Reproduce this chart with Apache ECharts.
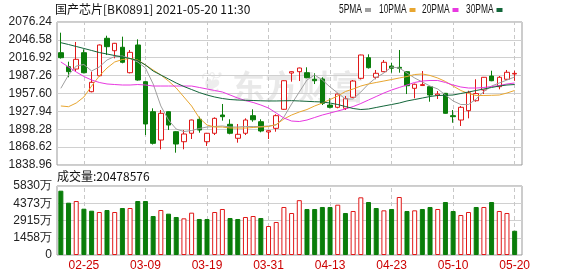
<!DOCTYPE html>
<html><head><meta charset="utf-8">
<script src="https://cdn.jsdelivr.net/npm/echarts@6/dist/echarts.min.js"></script>
<style>html,body{margin:0;padding:0;background:#fff}#c{width:578px;height:276px}</style>
</head><body><div id="c"></div>
<script>
const dates = ['02-22','02-23','02-24','02-25','02-26','03-01','03-02','03-03','03-04','03-05',
 '03-08','03-09','03-10','03-11','03-12','03-15','03-16','03-17','03-18','03-19',
 '03-22','03-23','03-24','03-25','03-26','03-29','03-30','03-31','04-01','04-02',
 '04-06','04-07','04-08','04-09','04-12','04-13','04-14','04-15','04-16','04-19',
 '04-20','04-21','04-22','04-23','04-26','04-27','04-28','04-29','04-30','05-06',
 '05-07','05-10','05-11','05-12','05-13','05-14','05-17','05-18','05-19','05-20'];
const labelDates = ['02-25','03-09','03-19','03-31','04-13','04-23','05-10','05-20'];
const opens  = [2025.3,2002.1,1998.2,2025.3,1960.6,1987.1,2049.2,2028.6,2034.3,1992.1,
 2038.1,1977.2,1927.4,1880.4,1927.4,1894.2,1877.6,1891.6,1914.8,1877.6,
 1891.6,1921.9,1906.5,1883.3,1891.6,1920.8,1910.8,1893.7,1899.8,1931.4,
 1991.5,1993.8,1992.1,1981.2,1981.7,1938.5,1934.7,1933.0,1951.3,1982.8,
 2017.0,1984.5,1993.8,2003.2,2001.0,1993.8,1966.2,1970.8,1968.9,1954.6,
 1957.9,1920.8,1913.6,1929.1,1945.6,1963.4,1986.6,1968.9,1981.2,1990.0];
const closes = [2017.0,1993.8,2014.3,1992.1,1976.2,2038.1,2035.3,2040.9,2009.4,2025.9,
 1980.0,1907.0,1874.9,1924.7,1905.3,1873.8,1890.4,1913.6,1897.0,1891.6,
 1916.4,1919.1,1891.6,1889.9,1913.6,1914.0,1895.4,1895.9,1920.8,1978.8,
 1993.8,1999.9,1983.8,1978.8,1941.3,1934.7,1956.7,1949.0,1978.3,2021.5,
 2000.4,1991.1,2009.4,1999.4,1999.5,1970.5,1972.9,1972.4,1955.1,1956.7,
 1924.7,1919.1,1934.7,1958.9,1957.5,1984.5,1978.8,1984.5,1992.8,1991.0];
const lows   = [2015.5,1984.5,1993.8,1991.1,1959.5,1986.0,2021.5,2016.0,2007.7,1991.0,
 1979.0,1888.7,1873.0,1865.0,1897.0,1859.4,1865.0,1882.1,1892.6,1870.5,
 1888.7,1912.5,1889.9,1876.0,1888.7,1910.8,1893.2,1882.1,1894.2,1930.5,
 1977.2,1978.3,1983.0,1973.3,1938.5,1933.0,1933.0,1930.2,1950.0,1981.0,
 1999.0,1981.2,1993.0,1992.1,1992.1,1956.7,1949.6,1970.0,1944.0,1948.5,
 1924.0,1909.1,1903.7,1916.4,1944.0,1956.7,1978.0,1964.6,1980.0,1978.7];
const highs  = [2058.5,2010.4,2043.1,2030.9,1993.8,2039.0,2053.5,2041.5,2051.9,2029.8,
 2047.5,1978.0,1933.0,1930.2,1928.0,1895.0,1897.0,1914.2,1919.1,1892.2,
 1918.0,1940.2,1914.8,1907.0,1916.4,1931.4,1914.8,1896.5,1923.1,1979.5,
 1994.5,2000.5,2001.1,1991.1,1984.5,1949.6,1957.5,1953.4,1980.0,2022.0,
 2022.6,1996.6,2013.2,2008.7,2029.8,1994.5,1974.0,1994.9,1969.5,1961.7,
 1958.5,1930.2,1936.9,1962.2,1981.2,1985.0,1995.4,1986.6,1996.6,1995.4];
const ma5  = [1966.2,1988.3,2003.2,2005.7,1994.9,2001.6,2013.2,2019.0,2019.8,2015.7,
 2009.9,1999.9,1973.4,1936.9,1913.6,1898.6,1894.5,1896.2,1899.5,1902.0,
 1902.8,1903.7,1902.0,1902.0,1902.8,1902.8,1902.8,1903.7,1905.3,1918.6,
 1940.2,1960.1,1980.0,1988.3,1980.0,1968.4,1958.4,1948.5,1948.5,1960.1,
 1973.4,1984.1,1991.6,2001.6,1999.9,1991.6,1983.3,1976.7,1970.0,1965.1,
 1955.1,1945.2,1939.3,1939.3,1948.5,1960.9,1970.0,1975.0,1980.0,1985.0];
const ma10 = [1936.9,1935.7,1941.8,1951.8,1970.0,1986.6,1999.9,2009.9,2014.0,2015.7,
 2013.2,2004.9,1996.6,1988.3,1978.3,1966.7,1951.8,1936.9,1917.0,1905.3,
 1902.0,1902.0,1900.3,1900.3,1900.3,1901.2,1902.0,1902.8,1906.2,1915.3,
 1921.9,1926.9,1931.0,1936.9,1941.8,1947.6,1953.4,1960.9,1965.1,1970.0,
 1973.4,1975.9,1978.3,1980.8,1983.3,1985.8,1989.1,1990.0,1987.5,1983.3,
 1977.5,1970.0,1962.6,1957.6,1954.3,1954.3,1954.6,1955.1,1958.4,1962.6];
const ma20 = [2009.9,2001.6,1993.3,1985.8,1980.0,1975.9,1973.4,1972.5,1971.7,1971.7,
 1972.5,1971.7,1970.0,1970.0,1970.0,1970.0,1970.0,1970.0,1967.6,1965.1,
 1962.6,1960.1,1955.1,1950.1,1946.0,1942.7,1938.5,1933.5,1925.2,1916.9,
 1911.9,1911.1,1913.6,1917.8,1921.9,1925.2,1928.6,1931.9,1936.0,1941.0,
 1946.8,1952.6,1958.4,1963.4,1967.6,1971.7,1975.9,1978.3,1979.2,1979.2,
 1975.9,1971.7,1968.4,1966.7,1966.7,1967.6,1969.2,1970.9,1973.4,1975.0];
const ma30 = [2041.9,2038.9,2035.6,2032.3,2029.0,2025.6,2023.1,2020.6,2018.2,2015.7,
 2012.3,2004.9,1994.9,1988.3,1981.7,1975.0,1969.2,1964.2,1959.2,1955.1,
 1951.8,1949.3,1947.6,1946.8,1946.3,1946.0,1945.5,1945.2,1945.2,1945.5,
 1945.7,1945.2,1944.6,1944.0,1943.5,1941.8,1939.3,1936.0,1932.7,1931.0,
 1931.9,1934.4,1936.9,1939.3,1941.8,1945.2,1947.6,1950.1,1952.6,1954.3,
 1954.6,1955.1,1957.6,1960.1,1962.6,1965.1,1967.6,1970.0,1971.7,1972.5];
// volume in 万 (10k)
const volumes = [5433,4420,4562,3912,3743,3633,3802,3633,3971,3971,
 4562,4562,3295,3802,3492,3211,3098,3577,3042,3042,
 3633,3887,3126,3042,3211,3295,3126,2450,2788,4056,
 3549,4633,3887,3887,4056,4056,4250,3549,3718,4873,
 4478,3971,3774,3887,4900,3718,3774,3887,4056,3887,
 4478,3718,3380,3633,4056,4056,4478,3718,3549,2048];
// 1 = up (red hollow), 0 = down (green)
const volUp = [0,0,1,0,0,1,0,1,0,1, 0,0,0,1,0,0,1,1,0,0, 1,1,0,0,1,1,0,1,1,1,
 1,1,0,0,0,0,1,0,1,1, 0,0,1,0,1,0,1,0,0,1, 0,0,1,1,0,1,0,1,1,0];
const priceMin = 1838.96, priceMax = 2076.24, priceStep = 29.66;
const volMax = 5830, volStep = 1457.5;
const titleText = '国产芯片[BK0891] 2021-05-20 11:30';
const volTitle = '成交量:20478576';
const legendNames = ['5PMA','10PMA','20PMA','30PMA'];
const legendColors = ['#a0a0a0','#e8a630','#e838e0','#13663a'];

const RED = '#e01818', GREEN = '#0a7d0a';
const chart = echarts.init(document.getElementById('c'), null, {renderer:'canvas'});
const candleData = opens.map((o,i)=>[o, closes[i], lows[i], highs[i]]);
const volData = volumes.map((v,i)=>({value:v, itemStyle: volUp[i] ? {color:'#fff', borderColor:RED, borderWidth:1} : {color:GREEN, borderColor:GREEN, borderWidth:1}}));
const vlines = {z:1, silent:true, symbol:['none','none'], label:{show:false},
  lineStyle:{type:[4,3], color:'#c8c8c8', width:1}, data: labelDates.map(d=>({xAxis:d}))};
const axFont = {fontFamily:'Liberation Sans, Arial, sans-serif', fontSize:12, color:'#222'};
const maLine = (name, data, color) => ({name, type:'line', data, xAxisIndex:1, yAxisIndex:1,
  showSymbol:false, symbol:'none', lineStyle:{width:1, color}, itemStyle:{color}, z:3});

// legend drawn as condensed text + small color bar
const legendX = [339, 379, 422, 466];
const legendGraphics = [];
legendNames.forEach((n,i)=>{
  const w = (n.length===4 ? 23 : 27.5);
  legendGraphics.push({type:'text', x:legendX[i], y:9.5, scaleX:0.7, silent:true,
    style:{text:n, font:'12px "Liberation Sans"', fill:'#111', align:'left', verticalAlign:'middle'}});
  legendGraphics.push({type:'rect', x:legendX[i]+w+3, y:8, silent:true,
    shape:{x:0,y:0,width:6,height:4}, style:{fill:legendColors[i]}});
});

chart.setOption({
  animation:false,
  backgroundColor:'#fff',
  title:[
    {text:titleText, left:55, top:3, padding:0, textStyle:{fontSize:12, fontWeight:'normal', color:'#111', fontFamily:'Noto Sans CJK SC'}},
    {text:volTitle, left:57, top:170, padding:0, textStyle:{fontSize:12, fontWeight:'normal', color:'#111', fontFamily:'Noto Sans CJK SC'}}
  ],
  graphic:[
    {type:'text', left:232, top:70, silent:true, z:-1,
     style:{text:'东方财富', font:'bold 33px "Noto Sans CJK SC"', fill:'rgba(0,0,0,0.085)'}},
    {type:'text', left:200, top:70, silent:true, z:-1,
     style:{text:'❦', font:'bold 30px "DejaVu Sans"', fill:'rgba(0,0,0,0.07)'}}
  ].concat(legendGraphics),
  grid:[
    {left:57, top:22, width:465, height:143, show:true, borderColor:'#999', borderWidth:1},
    {left:57, top:22, width:461.5, height:143},
    {left:57, top:186, width:465, height:69, show:true, borderColor:'#999', borderWidth:1},
    {left:57, top:186, width:461.5, height:69}
  ],
  xAxis:[
    {gridIndex:0, type:'value', min:0, max:1, show:false},
    {gridIndex:1, type:'category', data:dates, show:false},
    {gridIndex:2, type:'value', min:0, max:1, show:false},
    {gridIndex:3, type:'category', data:dates, axisLine:{show:false}, axisTick:{show:false}, splitLine:{show:false},
     axisLabel:{interval:(i,v)=>labelDates.includes(v), margin:5, color:'#cc0000', fontSize:12, fontFamily:'Liberation Sans, Arial, sans-serif'}}
  ],
  yAxis:[
    {gridIndex:0, type:'value', min:priceMin, max:priceMax, interval:priceStep,
     axisLine:{show:false}, axisTick:{show:false}, splitLine:{show:true, lineStyle:{color:'#d0d0d0', width:1}},
     axisLabel:{...axFont, margin:5, formatter:v=>v.toFixed(2)}},
    {gridIndex:1, type:'value', min:priceMin, max:priceMax, show:false},
    {gridIndex:2, type:'value', min:0, max:volMax, interval:volStep,
     axisLine:{show:false}, axisTick:{show:false}, splitLine:{show:true, lineStyle:{color:'#d0d0d0', width:1}},
     axisLabel:{...axFont, margin:5, formatter:v=> v===0 ? '0' : Math.round(v)+'万'}},
    {gridIndex:3, type:'value', min:0, max:volMax, show:false}
  ],
  series:[
    {name:'K', type:'candlestick', xAxisIndex:1, yAxisIndex:1, data:candleData, barWidth:5,
     itemStyle:{color:'#ffffff', color0:GREEN, borderColor:RED, borderColor0:GREEN, borderWidth:1},
     markLine:vlines},
    maLine(legendNames[0], ma5, legendColors[0]),
    maLine(legendNames[1], ma10, legendColors[1]),
    maLine(legendNames[2], ma20, legendColors[2]),
    maLine(legendNames[3], ma30, legendColors[3]),
    {name:'VOL', type:'bar', xAxisIndex:3, yAxisIndex:3, data:volData, barWidth:5, markLine:vlines}
  ]
});
</script></body></html>
